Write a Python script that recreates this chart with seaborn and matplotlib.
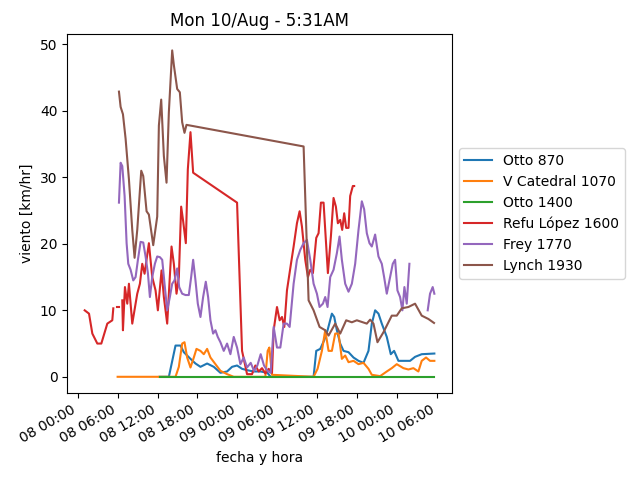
import numpy as np
import pandas as pd
import matplotlib
matplotlib.use("Agg")
import matplotlib.pyplot as plt
import matplotlib.dates as mdates
import seaborn as sns

# horas desde 08/Aug 00:00 y viento en km/hr (NaN = sin dato)
nan = np.nan
inicio = pd.Timestamp("2020-08-08 00:00")

otto870_h = [12.3, 13.7, 14.7, 15.45, 15.95, 16.95, 17.7, 18.45, 19.45, 20.45, 21.45, 22.45,
             23.2, 23.95, 24.7, 25.45, 26.45, 27.5, 28.5, 29.0, 34.9, 35.45, 35.85, 36.45,
             37.05, 37.55, 38.2, 38.55, 38.95, 39.45, 39.95, 40.7, 41.45, 42.2, 42.95, 43.7,
             44.2, 44.7, 45.2, 45.7, 46.45, 47.05, 47.55, 48.2, 48.95, 49.95, 50.7, 51.7, 53.6]
otto870_v = [0, 0, 4.7, 4.7, 3.7, 2.7, 2.0, 1.5, 2.0, 1.5, 0.6, 0.8,
             1.5, 1.7, 1.2, 1.0, 0.8, 0.8, 0.6, 0, 0, 0, 3.9, 4.2,
             5.5, 7.0, 9.5, 9.0, 7.0, 5.0, 3.9, 3.7, 2.9, 2.4, 2.1, 3.9,
             8.0, 10.0, 9.5, 8.0, 6.0, 3.4, 3.9, 2.4, 2.4, 2.4, 3.0, 3.4, 3.5]

catedral_h = [6.0, 14.7, 15.2, 15.7, 16.05, 16.45, 16.95, 17.45, 17.85, 18.45, 18.95, 19.45,
              19.95, 20.7, 21.45, 22.45, 23.45, 28.2, 28.55, 28.8, 29.2, 35.45, 36.05, 36.7,
              37.2, 37.7, 38.2, 38.7, 39.2, 39.7, 40.2, 40.7, 41.45, 42.2, 42.95, 43.7,
              44.2, 45.45, 46.45, 47.2, 47.95, 48.95, 49.7, 50.45, 51.2, 51.7, 52.35, 52.95, 53.6]
catedral_v = [0, 0, 1.5, 5.0, 5.2, 2.9, 1.4, 2.9, 4.2, 3.9, 3.4, 4.2,
              2.9, 1.9, 0.9, 0.4, 0, 0, 3.9, 4.4, 0.3, 0, 1.2, 3.9,
              7.0, 3.9, 3.9, 6.5, 6.5, 2.7, 3.2, 2.2, 2.4, 1.9, 2.1, 1.2,
              0.3, 0.1, 0.8, 1.3, 1.9, 1.3, 1.1, 1.3, 0.8, 2.4, 2.9, 2.4, 2.4]

otto1400_h = [12.3, 53.6]
otto1400_v = [0, 0]

lopez_h = [1.05, 1.7, 2.2, 2.95, 3.55, 4.45, 5.2, 5.35, 5.6, 5.9, 6.2, 6.45,
           6.7, 6.8, 7.1, 7.45, 7.7, 7.95, 8.2, 8.45, 8.95, 9.35, 9.7, 10.05,
           10.7, 11.2, 11.7, 12.05, 12.6, 12.95, 13.45, 14.1, 14.45, 14.85, 15.2, 15.55,
           15.85, 16.25, 16.55, 16.95, 17.35, 23.95, 24.7, 25.45, 26.2, 26.7, 27.2, 27.7,
           28.2, 28.7, 29.2, 29.45, 29.95, 30.35, 30.7, 31.05, 31.45, 32.05, 32.45, 32.95,
           33.35, 33.7, 34.2, 34.6, 34.95, 35.35, 35.85, 36.2, 36.55, 36.95, 37.2, 37.6,
           38.05, 38.45, 38.8, 39.1, 39.45, 39.75, 40.05, 40.35, 40.7, 40.95, 41.35, 41.55]
lopez_v = [10.0, 9.5, 6.5, 5.0, 5.0, 8.0, 8.5, 10.3, nan, 10.5, 10.5, nan,
           11.5, 7.0, 13.5, 11.0, 14.0, 11.0, 8.0, 9.5, 12.5, 14.0, 17.0, 15.5,
           20.1, 15.0, 13.0, 10.0, 16.0, 12.0, 8.0, 19.6, 17.0, 12.5, 15.0, 25.6,
           23.4, 20.1, 31.2, 36.8, 30.7, 26.2, 3.9, 0.4, 0.4, 1.7, 0.8, 1.3,
           0.5, 1.2, 0.6, 7.0, 10.5, 8.5, 9.0, 7.5, 13.0, 17.0, 19.6, 23.1,
           24.9, 22.6, 17.6, 15.0, 16.1, 15.6, 20.9, 21.6, 26.2, 26.2, 22.1, 15.6,
           21.1, 26.9, 25.6, 23.1, 23.6, 22.1, 24.6, 22.4, 22.4, 27.2, 28.7, 28.7]

frey_h = [6.2, 6.45, 6.7, 7.05, 7.35, 7.6, 7.95, 8.35, 8.7, 9.05, 9.45, 9.85,
          10.2, 10.55, 10.85, 11.2, 11.6, 11.95, 12.35, 12.7, 13.05, 13.45, 13.85, 14.2,
          14.55, 14.95, 15.25, 15.7, 16.2, 16.7, 17.05, 17.35, 17.7, 18.05, 18.45, 18.85,
          19.25, 19.6, 19.95, 20.35, 20.7, 21.05, 21.45, 21.95, 22.45, 22.95, 23.45, 23.95,
          24.45, 24.95, 25.45, 26.0, 26.5, 27.0, 27.5, 28.0, 28.5, 29.0, 29.45, 29.95,
          30.45, 30.95, 31.45, 31.85, 32.45, 32.95, 33.45, 33.95, 34.45, 34.95, 35.45, 35.95,
          36.35, 36.85, 37.2, 37.55, 37.95, 38.45, 38.95, 39.35, 39.7, 40.2, 40.7, 41.2,
          41.7, 42.2, 42.7, 43.05, 43.45, 43.85, 44.2, 44.7, 45.2, 45.7, 46.05, 46.45,
          46.95, 47.35, 47.7, 48.05, 48.45, 48.8, 49.1, 49.45, 49.85, 51.0, 52.6, 52.95,
          53.35, 53.6]
frey_v = [26.2, 32.2, 31.7, 27.2, 20.1, 17.0, 16.1, 14.5, 15.0, 17.6, 20.3, 20.2,
          18.1, 15.6, 12.0, 15.0, 17.0, 18.1, 18.0, 17.6, 14.0, 10.0, 12.0, 14.0,
          14.5, 16.3, 13.5, 12.5, 12.3, 12.3, 15.0, 17.6, 14.5, 11.0, 9.0, 12.0,
          14.3, 12.0, 8.5, 6.5, 7.0, 6.0, 5.2, 3.9, 5.0, 3.4, 6.0, 4.4,
          1.9, 2.9, 1.4, 2.1, 0.9, 1.7, 3.4, 1.7, 0.9, 0.6, 7.5, 4.4,
          4.4, 8.0, 8.0, 7.5, 14.0, 17.6, 19.1, 20.1, 20.6, 17.6, 14.0, 12.5,
          10.5, 11.0, 12.0, 10.5, 15.0, 16.1, 18.6, 21.1, 17.6, 14.0, 12.8, 14.0,
          17.0, 22.1, 26.4, 25.2, 21.6, 20.1, 19.6, 21.4, 18.1, 17.0, 15.0, 12.5,
          15.0, 17.0, 17.6, 13.0, 12.0, 10.0, 13.5, 11.0, 17.0, nan, 10.0, 12.5,
          13.5, 12.5]

lynch_h = [6.2, 6.45, 6.8, 7.2, 7.7, 8.2, 8.55, 8.95, 9.55, 9.85, 10.35, 10.7,
           11.35, 11.95, 12.2, 12.55, 12.95, 13.35, 13.7, 14.2, 14.45, 14.95, 15.35, 15.7,
           16.05, 16.35, 33.95, 34.7, 35.45, 36.35, 37.2, 37.7, 38.7, 39.45, 40.35, 41.2,
           41.95, 43.45, 43.95, 44.45, 45.05, 45.95, 47.2, 47.95, 48.7, 49.7, 50.7, 51.7,
           52.7, 53.55]
lynch_v = [42.9, 40.6, 39.5, 35.8, 29.7, 22.1, 17.9, 22.1, 31.0, 30.2, 24.9, 24.4,
           19.8, 24.1, 37.8, 41.7, 33.2, 29.2, 39.8, 49.1, 46.9, 43.3, 42.8, 38.3,
           36.7, 37.9, 34.65, 11.5, 10.0, 7.5, 7.0, 6.2, 8.0, 6.5, 8.5, 8.2,
           8.5, 8.0, 8.6, 8.0, 5.2, 6.7, 9.2, 9.2, 10.3, 10.5, 11.0, 9.2,
           8.7, 8.1]

estaciones = ["Otto 870", "V Catedral 1070", "Otto 1400", "Refu López 1600", "Frey 1770", "Lynch 1930"]
horas = [otto870_h, catedral_h, otto1400_h, lopez_h, frey_h, lynch_h]
valores = [otto870_v, catedral_v, otto1400_v, lopez_v, frey_v, lynch_v]

colores = sns.color_palette("tab10")

fig, ax = plt.subplots(figsize=(6.4, 4.8), dpi=100)

for i, nombre in enumerate(estaciones):
    df = pd.DataFrame({"fecha": inicio + pd.to_timedelta(horas[i], unit="h"),
                       "viento": valores[i]})
    # cortar en tramos donde falta el dato
    df["tramo"] = df["viento"].isna().cumsum()
    df = df.dropna()
    primero = True
    for _, sub in df.groupby("tramo"):
        sns.lineplot(data=sub, x="fecha", y="viento", ax=ax, color=colores[i],
                     label=nombre if primero else None, linewidth=1.5)
        primero = False

ax.xaxis.set_major_locator(mdates.HourLocator(byhour=[0, 6, 12, 18]))
ax.xaxis.set_major_formatter(mdates.DateFormatter("%d %H:%M"))
ax.set_yticks([0, 10, 20, 30, 40, 50])
ax.set_xlabel("fecha y hora")
ax.set_ylabel("viento [km/hr]")
ax.set_title("Mon 10/Aug - 5:31AM")
ax.legend(loc="center left", bbox_to_anchor=(1, 0.5))
fig.autofmt_xdate()
fig.subplots_adjust(left=0.105, right=0.706, top=0.929, bottom=0.181)
fig.savefig("out.png", dpi=100)
